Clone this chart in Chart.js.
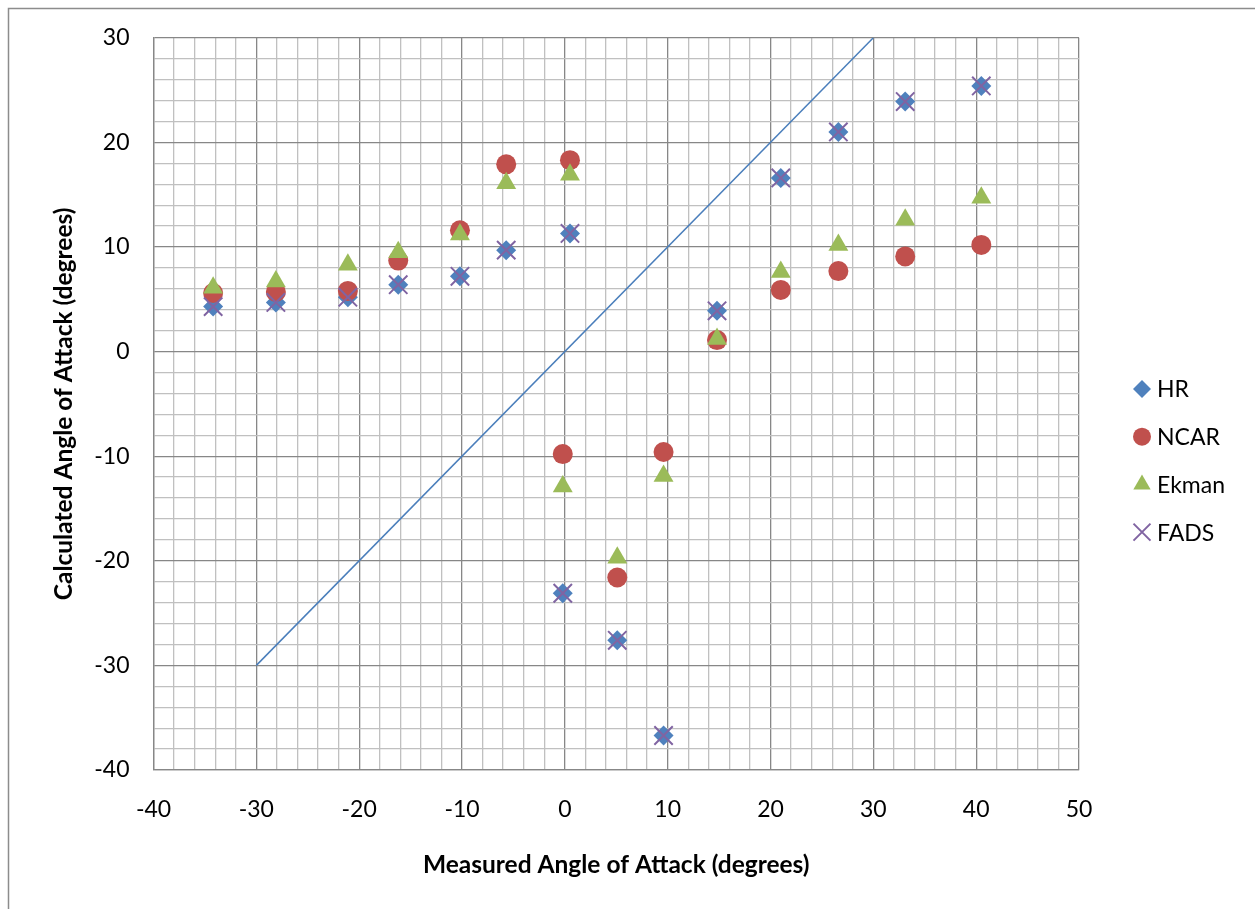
<!DOCTYPE html>
<html>
<head>
<meta charset="utf-8">
<script src="https://cdn.jsdelivr.net/npm/chart.js@4.4.1/dist/chart.umd.min.js"></script>
<style>
  html, body { margin: 0; padding: 0; background: #fff; }
  #wrap { width: 1255px; height: 909px; }
</style>
</head>
<body>
<div id="wrap"><canvas id="aoaChart" width="1255" height="909"></canvas></div>
<script>
// measured angle of attack (x) for every point
var measured = [-34.2, -28.1, -21.1, -16.2, -10.2, -5.7, 0.5, -0.2, 5.1, 9.6, 14.8, 21.0, 26.6, 33.1, 40.5];
// calculated angle of attack for each method
var hrValues    = [4.3, 4.7, 5.2, 6.4, 7.2, 9.7, 11.3, -23.1, -27.6, -36.7, 3.9, 16.6, 21.0, 23.9, 25.4];
var ncarValues  = [5.6, 5.7, 5.8, 8.7, 11.6, 17.9, 18.3, -9.8, -21.6, -9.6, 1.1, 5.9, 7.7, 9.1, 10.2];
var ekmanValues = [6.1, 6.7, 8.3, 9.5, 11.2, 16.1, 16.9, -12.9, -19.7, -11.9, 1.2, 7.6, 10.2, 12.6, 14.7];
var fadsValues  = [4.3, 4.7, 5.2, 6.4, 7.2, 9.7, 11.3, -23.1, -27.6, -36.7, 3.9, 16.6, 21.0, 23.9, 25.4];
// y = x reference line end points
var refLineX = [-30, 30];
var refLineY = [-30, 30];

var xTicks = { min: -40, max: 50, step: 2, major: 10 };
var yTicks = { min: -40, max: 30, step: 2, major: 10 };

const FONT = 'Lato, "Open Sans", sans-serif';

function toPoints(xs, ys) {
  return xs.map((x, i) => ({ x: x, y: ys[i] }));
}

function gridColor(ctx) {
  const v = ctx.tick ? ctx.tick.value : 0;
  return Math.abs(v % 10) < 1e-6 ? '#878787' : '#C0C0C0';
}

function majorLabel(value) {
  return Math.abs(value % 10) < 1e-6 ? value : '';
}

// outer frame of the chart object (only left/top edges are inside the picture)
const framePlugin = {
  id: 'frame',
  beforeDraw(chart) {
    const c = chart.ctx;
    c.save();
    c.strokeStyle = '#8C8C8C';
    c.lineWidth = 1.5;
    c.beginPath();
    c.moveTo(8.5, chart.height);
    c.lineTo(8.5, 8.5);
    c.lineTo(chart.width, 8.5);
    c.stroke();
    c.restore();
  }
};

// legend drawn at the right like the original
const legendPlugin = {
  id: 'sideLegend',
  afterDraw(chart) {
    const c = chart.ctx;
    const items = chart.data.datasets.filter(d => d.inLegend);
    const markX = 1142, textX = 1157, firstY = 389, gap = 47.7;
    c.save();
    c.font = '23px ' + FONT;
    c.textBaseline = 'middle';
    c.textAlign = 'left';
    items.forEach((ds, i) => {
      const y = firstY + i * gap;
      c.fillStyle = ds.backgroundColor;
      c.strokeStyle = ds.borderColor;
      c.lineWidth = ds.pointBorderWidth;
      Chart.helpers.drawPoint(c, {
        pointStyle: ds.pointStyle,
        rotation: 0,
        radius: ds.legendRadius,
        borderWidth: ds.pointBorderWidth
      }, markX, y);
      c.fillStyle = '#000';
      c.fillText(ds.label, textX, y + 1);
    });
    c.restore();
  }
};

const ctx = document.getElementById('aoaChart').getContext('2d');
const chart = new Chart(ctx, {
  type: 'scatter',
  data: {
    datasets: [
      {
        label: 'HR', inLegend: true, order: 4,
        data: toPoints(measured, hrValues),
        pointStyle: 'rectRot', pointRadius: 10, legendRadius: 9,
        backgroundColor: '#4F81BD', borderColor: '#4F81BD', pointBorderWidth: 0
      },
      {
        label: 'NCAR', inLegend: true, order: 3,
        data: toPoints(measured, ncarValues),
        pointStyle: 'circle', pointRadius: 10, legendRadius: 9,
        backgroundColor: '#C0504D', borderColor: '#C0504D', pointBorderWidth: 0
      },
      {
        label: 'Ekman', inLegend: true, order: 2,
        data: toPoints(measured, ekmanValues),
        pointStyle: 'triangle', pointRadius: 11.5, legendRadius: 10,
        backgroundColor: '#9BBB59', borderColor: '#9BBB59', pointBorderWidth: 0
      },
      {
        label: 'FADS', inLegend: true, order: 1,
        data: toPoints(measured, fadsValues),
        pointStyle: 'crossRot', pointRadius: 13, legendRadius: 12,
        backgroundColor: '#8064A2', borderColor: '#8064A2', pointBorderWidth: 2
      },
      {
        label: 'y = x', inLegend: false, order: 5,
        data: toPoints(refLineX, refLineY),
        showLine: true, pointRadius: 0,
        borderColor: '#4A7EBB', borderWidth: 1.5
      }
    ]
  },
  options: {
    responsive: false,
    animation: false,
    events: [],
    layout: { padding: { left: 8, top: 37, right: 176, bottom: 0 } },
    plugins: {
      legend: { display: false },
      tooltip: { enabled: false }
    },
    scales: {
      x: {
        type: 'linear',
        min: xTicks.min, max: xTicks.max,
        afterFit: (scale) => { scale.height = 139; },
        ticks: {
          stepSize: xTicks.step, autoSkip: false, maxRotation: 0,
          padding: 26, color: '#000',
          font: { family: FONT, size: 23 },
          callback: majorLabel
        },
        grid: { color: gridColor, lineWidth: 1.3, drawTicks: false },
        border: { color: '#878787', width: 1.3 },
        title: {
          display: true, text: 'Measured Angle of Attack (degrees)', color: '#000',
          font: { family: FONT, size: 24.5, weight: 'bold' },
          padding: { top: 0, bottom: 29 }
        }
      },
      y: {
        type: 'linear',
        min: yTicks.min, max: yTicks.max,
        afterFit: (scale) => { scale.width = 145.5; },
        ticks: {
          stepSize: yTicks.step, autoSkip: false,
          padding: 24, color: '#000',
          font: { family: FONT, size: 23 },
          callback: majorLabel
        },
        grid: { color: gridColor, lineWidth: 1.3, drawTicks: false },
        border: { color: '#878787', width: 1.3 },
        title: {
          display: true, text: 'Calculated Angle of Attack (degrees)', color: '#000',
          font: { family: FONT, size: 24.5, weight: 'bold' },
          padding: { top: 41, bottom: 0 }
        }
      }
    }
  },
  plugins: [framePlugin, legendPlugin]
});
</script>
</body>
</html>
